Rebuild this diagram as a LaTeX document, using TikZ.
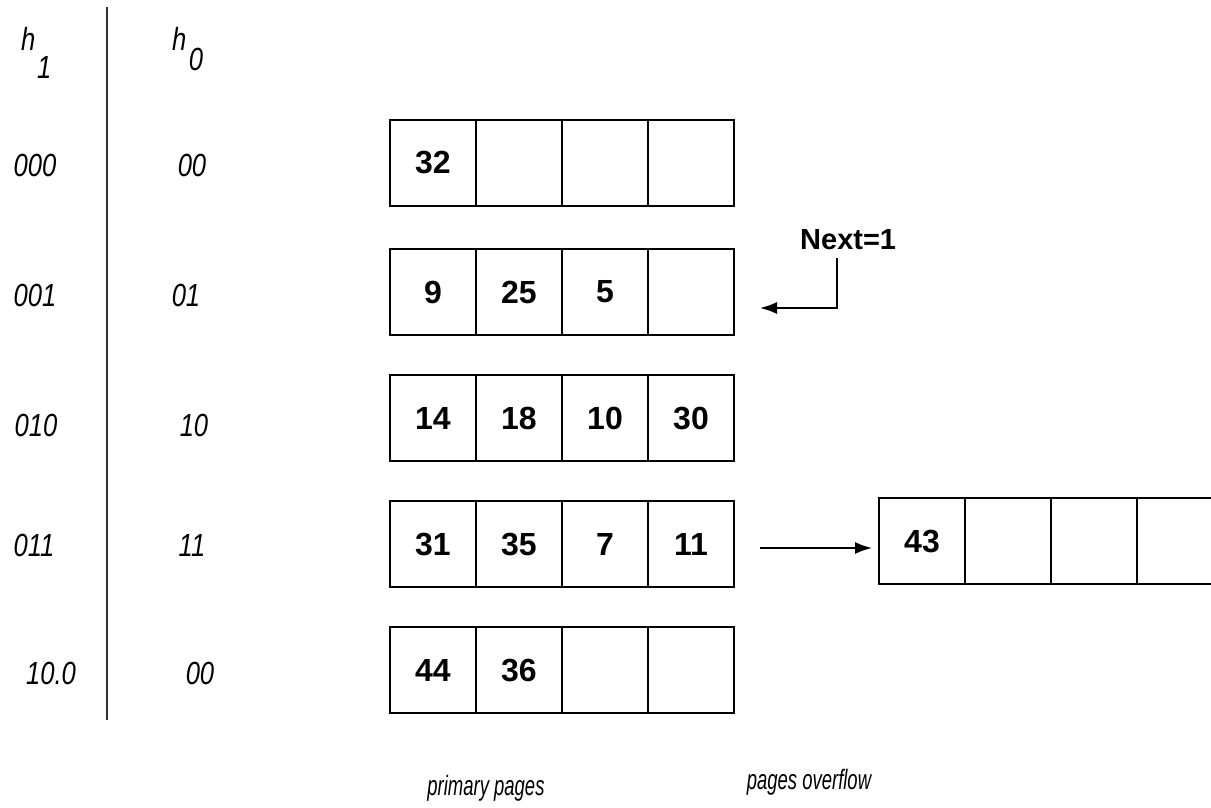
\documentclass[tikz,border=0pt]{standalone}
\usepackage{fontspec}
\setmainfont{Liberation Sans}
\usetikzlibrary{arrows.meta}
\newcommand\condtext[2]{\scalebox{#1}[1]{#2}}
\tikzset{
  cell/.style={draw, line width=1.8pt, minimum width=86pt, minimum height=86pt, inner sep=0pt,
    font=\fontsize{32}{32}\selectfont\bfseries},
  lab/.style={inner sep=0pt, font=\fontsize{32}{32}\selectfont\itshape},
  captext/.style={inner sep=0pt, font=\fontsize{28}{28}\selectfont\itshape},
  nextlab/.style={inner sep=0pt, font=\fontsize{29}{29}\selectfont\bfseries},
  arr/.style={line width=1.6pt, -{Latex[length=17pt,width=12pt]}},
  sep/.style={line width=2pt, draw=black!80}
}
\begin{document}
\begin{tikzpicture}[x=1pt,y=-1pt]
\useasboundingbox (0,0) rectangle (1211,807);
\clip (0,0) rectangle (1211,807);
\fill[white] (0,0) rectangle (1211,807);

% separator
\coordinate (septop) at (107,7);
\coordinate (sepbot) at (107,720);
\draw[sep] (septop) -- (sepbot);

% headers
\node[lab, anchor=base west] (h1) at (21,50) {\condtext{0.8}{h\kern2pt\raisebox{-28pt}{1}}};
\node[lab, anchor=base west] (h0) at (172,50) {\condtext{0.8}{h\kern3pt\raisebox{-20pt}{0}}};

% row labels
\node[lab] (a1) at (35,165) {\condtext{0.8}{000}};
\node[lab] (b1) at (192,165) {\condtext{0.8}{00}};
\node[lab] (a2) at (35,295) {\condtext{0.8}{001}};
\node[lab] (b2) at (186,295) {\condtext{0.8}{01}};
\node[lab] (a3) at (36,425) {\condtext{0.8}{010}};
\node[lab] (b3) at (194,425) {\condtext{0.8}{10}};
\node[lab] (a4) at (34,545) {\condtext{0.8}{011}};
\node[lab] (b4) at (192,545) {\condtext{0.8}{11}};
\node[lab] (a5) at (51,673) {\condtext{0.8}{10.0}};
\node[lab] (b5) at (200,673) {\condtext{0.8}{00}};

% primary pages
\node[cell] (r1c1) at (433,163) {32};
\node[cell] (r1c2) at (519,163) {};
\node[cell] (r1c3) at (605,163) {};
\node[cell] (r1c4) at (691,163) {};

\node[cell] (r2c1) at (433,292) {9};
\node[cell] (r2c2) at (519,292) {25};
\node[cell] (r2c3) at (605,292) {5};
\node[cell] (r2c4) at (691,292) {};

\node[cell] (r3c1) at (433,418) {14};
\node[cell] (r3c2) at (519,418) {18};
\node[cell] (r3c3) at (605,418) {10};
\node[cell] (r3c4) at (691,418) {30};

\node[cell] (r4c1) at (433,544) {31};
\node[cell] (r4c2) at (519,544) {35};
\node[cell] (r4c3) at (605,544) {7};
\node[cell] (r4c4) at (691,544) {11};

\node[cell] (r5c1) at (433,670) {44};
\node[cell] (r5c2) at (519,670) {36};
\node[cell] (r5c3) at (605,670) {};
\node[cell] (r5c4) at (691,670) {};

% overflow page
\node[cell] (o1) at (922,541) {43};
\node[cell] (o2) at (1008,541) {};
\node[cell] (o3) at (1094,541) {};
\node[cell] (o4) at (1180,541) {};

% Next pointer
\node[nextlab, anchor=base west] (next) at (800,249) {Next=1};
\coordinate (nexttop) at (837,258);
\coordinate (nextend) at (760,308);
\draw[arr] (nexttop) |- (nextend);

% overflow arrow
\coordinate (ovstart) at (760,548);
\coordinate (ovend) at (872,548);
\draw[arr] (ovstart) -- (ovend);

% captions
\node[captext] (pp) at (486,788) {\condtext{0.66}{primary pages}};
\node[captext] (po) at (809,782) {\condtext{0.66}{pages overflow}};
\end{tikzpicture}
\end{document}
